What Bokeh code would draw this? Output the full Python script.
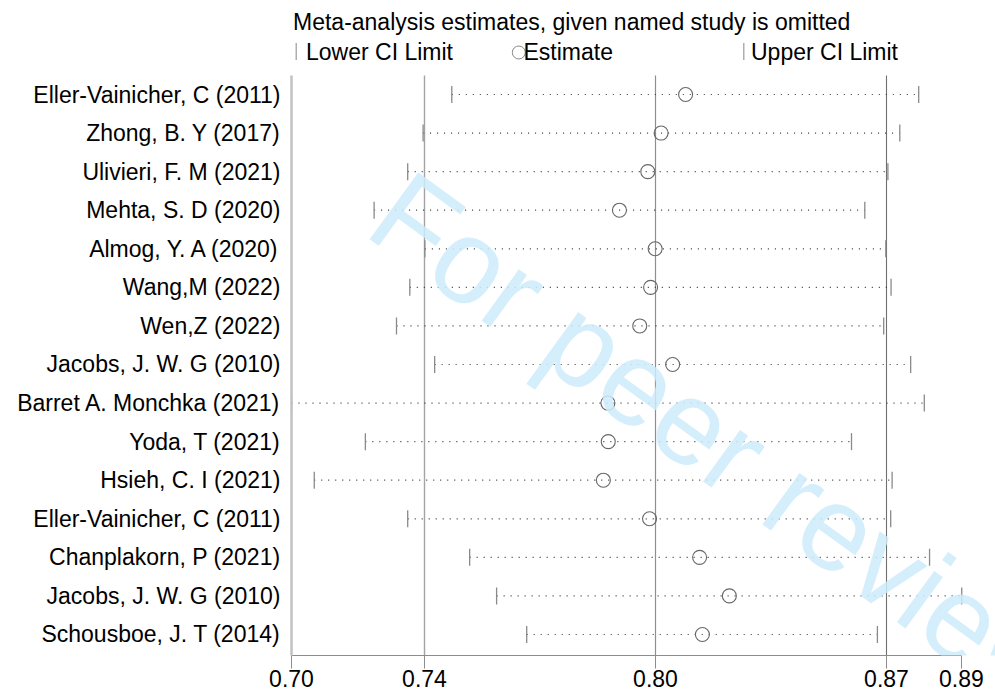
import numpy as np
from bokeh.plotting import figure
from bokeh.models import Range1d, FixedTicker, Label, ColumnDataSource
from bokeh.core.properties import value
from bokeh.embed import file_html
from bokeh.resources import INLINE

# ---------------- data ----------------
studies = [
    "Eller-Vainicher, C (2011)", "Zhong, B. Y (2017)", "Ulivieri, F. M (2021)",
    "Mehta, S. D (2020)", "Almog, Y. A (2020)", "Wang,M (2022)", "Wen,Z (2022)",
    "Jacobs, J. W. G (2010)", "Barret A. Monchka (2021)", "Yoda, T (2021)",
    "Hsieh, C. I (2021)", "Eller-Vainicher, C (2011)", "Chanplakorn, P (2021)",
    "Jacobs, J. W. G (2010)", "Schousboe, J. T (2014)",
]
lower = [0.7453, 0.7371, 0.7327, 0.7231, 0.7376, 0.7333, 0.7295, 0.7404,
         0.6995, 0.7206, 0.7060, 0.7327, 0.7504, 0.7581, 0.7667]
estimate = [0.8121, 0.8051, 0.8013, 0.7932, 0.8034, 0.8021, 0.7990, 0.8084,
            0.7899, 0.7900, 0.7886, 0.8018, 0.8161, 0.8246, 0.8169]
upper = [0.8787, 0.8733, 0.8699, 0.8633, 0.8693, 0.8708, 0.8687, 0.8764,
         0.8803, 0.8595, 0.8711, 0.8707, 0.8818, 0.8910, 0.8669]

tick_values = [0.6995, 0.7375, 0.8035, 0.8695, 0.8909]
tick_labels = ["0.70", "0.74", "0.80", "0.87", "0.89"]
ref_values = [0.7375, 0.8035, 0.8695]   # overall lower CI, estimate, upper CI

title_text = "Meta-analysis estimates, given named study is omitted"
legend_labels = ["Lower CI Limit", "Estimate", "Upper CI Limit"]

# ---------------- layout ----------------
FONT = "Liberation Sans"
FS = "23px"
PX = 3500.0            # pixels per data unit on x
X0 = 0.6995            # x value at left frame edge
ROW = 38.571           # pixels per row
FRAME_W, FRAME_H = 704, 655

def xd(px):
    return X0 + (px - 291) / PX

def yd(py):
    return 1 + (py - 94) / ROW

rows = list(range(1, len(studies) + 1))
src = ColumnDataSource(dict(y=rows, lower=lower, est=estimate, upper=upper))

p = figure(frame_width=FRAME_W, frame_height=FRAME_H,
           x_range=Range1d(X0, X0 + FRAME_W / PX),
           y_range=Range1d(yd(FRAME_H), yd(0)),
           output_backend="svg", toolbar_location=None,
           min_border_left=291, min_border_right=0, min_border_top=0,
           min_border_bottom=38)
p.outline_line_color = None
p.grid.visible = False
p.background_fill_color = "white"
p.border_fill_color = "white"

ytop, ybot = yd(75), yd(FRAME_H)

# x axis
xa = p.xaxis[0]
xa.ticker = FixedTicker(ticks=tick_values)
xa.major_label_overrides = {v: l for v, l in zip(tick_values, tick_labels)}
xa.bounds = (tick_values[0] - 1e-6, tick_values[-1] + 1e-6)
xa.axis_line_color = "#8c8c8c"
xa.axis_line_width = 1
xa.major_tick_line_color = "#8c8c8c"
xa.major_tick_in = 0
xa.major_tick_out = 13
xa.minor_tick_line_color = None
xa.major_label_standoff = 1
xa.major_label_text_font = FONT
xa.major_label_text_font_size = FS
xa.major_label_text_color = "black"

# y axis
ya = p.yaxis[0]
ya.ticker = FixedTicker(ticks=rows)
ya.major_label_overrides = {r: s for r, s in zip(rows, studies)}
ya.bounds = (ytop, ybot)
ya.axis_line_color = "#c2c2c2"
ya.axis_line_width = 2.5
ya.major_tick_line_color = None
ya.minor_tick_line_color = None
ya.major_tick_out = 0
ya.major_tick_in = 0
ya.major_label_standoff = 11
ya.major_label_text_font = FONT
ya.major_label_text_font_size = FS
ya.major_label_text_color = "black"

# reference lines
p.segment(x0=ref_values, x1=ref_values, y0=[ytop] * 3, y1=[ybot] * 3,
          line_color=["#a3a3a3", "#8f8f8f", "#707070"], line_width=[1.4, 1.2, 1.1])

# dotted lines
p.segment(x0="lower", x1="upper", y0="y", y1="y", source=src,
          line_color="#333333", line_width=1.2, line_dash="1 6")
# CI caps
p.scatter(x="lower", y="y", source=src, marker="dash", angle=np.pi / 2,
          size=17, line_color="#8a8a8a", line_width=1.3)
p.scatter(x="upper", y="y", source=src, marker="dash", angle=np.pi / 2,
          size=17, line_color="#8a8a8a", line_width=1.3)
# estimates
p.scatter(x="est", y="y", source=src, marker="circle", size=14,
          fill_color=None, line_color="#666666", line_width=1.1)

# title and legend (inside frame area above plot)
p.text(x=[xd(292.5)], y=[yd(21)], text=[title_text], text_font=value(FONT),
       text_font_size=FS, text_color="black", text_baseline="middle")
p.scatter(x=[xd(295.7), xd(743.3)], y=[yd(51)] * 2, marker="dash", angle=np.pi / 2,
          size=17, line_color="#9a9a9a", line_width=1.2)
p.scatter(x=[xd(518.3)], y=[yd(52)], marker="circle", size=13,
          fill_color=None, line_color="#888888", line_width=1)
p.text(x=[xd(305.5), xd(523), xd(750.5)], y=[yd(51.5)] * 3, text=legend_labels,
       text_font=value(FONT), text_font_size=FS, text_color="black",
       text_baseline="middle")

# watermark
wm = Label(x=xd(386), y=yd(199), text="For peer review", angle=-0.6283,
           text_font=FONT, text_font_size="120px", text_color="#cdebfa",
           text_alpha=0.85, text_baseline="middle", text_align="left")
p.add_layout(wm)

open("out.html", "w").write(file_html(p, INLINE))
